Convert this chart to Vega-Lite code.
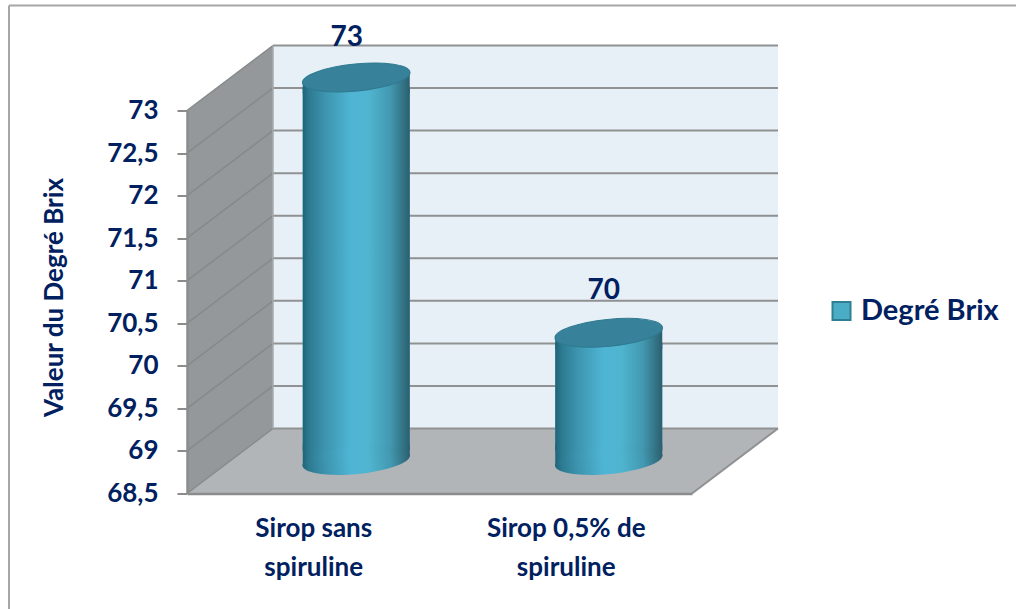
{
  "$schema": "https://vega.github.io/schema/vega-lite/v6.json",
  "autosize": {"type": "none"},
  "width": 505,
  "height": 383,
  "padding": {"left": 187, "top": 110.5, "right": 324, "bottom": 115.5},
  "background": "#ffffff",
  "config": {
    "view": {"stroke": null},
    "text": {"font": "Lato", "fontWeight": "bold", "color": "#002060"}
  },
  "resolve": {"axis": {"x": "independent", "y": "independent"}},
  "datasets": {
    "cylindres": [
      {"categorie": "Sirop sans spiruline", "rang": 0.5, "valeur": 73, "base": 68.5, "serie": "Degré Brix"},
      {"categorie": "Sirop 0,5% de spiruline", "rang": 1.5, "valeur": 70, "base": 68.5, "serie": "Degré Brix"}
    ],
    "graduations": [
      {"graduation": 68.5}, {"graduation": 69}, {"graduation": 69.5}, {"graduation": 70},
      {"graduation": 70.5}, {"graduation": 71}, {"graduation": 71.5}, {"graduation": 72},
      {"graduation": 72.5}, {"graduation": 73}
    ]
  },
  "layer": [
    {
      "data": {"values": [
        {"rang": 0, "bas": 68.5, "haut": 73},
        {"rang": 0.3406, "bas": 69.264, "haut": 73.764}
      ]},
      "mark": {"type": "area", "fill": "#94989a", "orient": "vertical"},
      "encoding": {
        "x": {
          "field": "rang", "type": "quantitative",
          "scale": {"domain": [0, 2], "nice": false, "zero": false, "padding": 0},
          "axis": null
        },
        "y": {
          "field": "bas", "type": "quantitative",
          "scale": {"domain": [68.5, 73], "nice": false, "zero": false, "padding": 0},
          "axis": null
        },
        "y2": {"field": "haut"}
      }
    },
    {
      "data": {"values": [
        {"bord": 68.5, "gauche": 0, "droite": 2},
        {"bord": 69.264, "gauche": 0.3406, "droite": 2.3406}
      ]},
      "mark": {"type": "area", "fill": "#b2b5b8", "orient": "horizontal"},
      "encoding": {
        "y": {"field": "bord", "type": "quantitative", "axis": null},
        "x": {"field": "gauche", "type": "quantitative", "axis": null},
        "x2": {"field": "droite"}
      }
    },
    {
      "data": {"values": [{"gauche": 0, "droite": 2, "bas": 68.5, "haut": 73}]},
      "mark": {"type": "rect", "fill": "#e8f0f7", "xOffset": 86, "x2Offset": 86, "yOffset": -65, "y2Offset": -65},
      "encoding": {
        "x": {"field": "gauche", "type": "quantitative", "axis": null},
        "x2": {"field": "droite"},
        "y": {"field": "bas", "type": "quantitative", "axis": null},
        "y2": {"field": "haut"}
      }
    },
    {
      "data": {"name": "graduations"},
      "mark": {"type": "rule", "stroke": "#8f9192", "strokeWidth": 2, "xOffset": 86, "x2Offset": 86, "yOffset": -65},
      "encoding": {
        "x": {"datum": 0, "type": "quantitative", "axis": null},
        "x2": {"datum": 2},
        "y": {"field": "graduation", "type": "quantitative", "axis": null}
      }
    },
    {
      "data": {"name": "graduations"},
      "mark": {"type": "rule", "stroke": "#85898a", "strokeWidth": 1.5, "x2Offset": 86, "y2Offset": -65},
      "encoding": {
        "x": {"datum": 0, "type": "quantitative", "axis": null},
        "x2": {"datum": 0},
        "y": {"field": "graduation", "type": "quantitative", "axis": null},
        "y2": {"field": "graduation"}
      }
    },
    {
      "data": {"values": [{"graduation": 68.5}]},
      "mark": {"type": "rule", "stroke": "#8f9192", "strokeWidth": 2, "x2Offset": 86, "y2Offset": -65},
      "encoding": {
        "x": {"datum": 2, "type": "quantitative", "axis": null},
        "x2": {"datum": 2},
        "y": {"field": "graduation", "type": "quantitative", "axis": null},
        "y2": {"field": "graduation"}
      }
    },
    {
      "data": {"values": [{"graduation": 68.5, "sommet": 73}]},
      "mark": {"type": "rule", "stroke": "#a9abad", "strokeWidth": 1.5, "xOffset": 86, "yOffset": -65, "y2Offset": -65},
      "encoding": {
        "x": {"datum": 0, "type": "quantitative", "axis": null},
        "y": {"field": "graduation", "type": "quantitative", "axis": null},
        "y2": {"field": "sommet"}
      }
    },
    {
      "data": {"name": "cylindres"},
      "mark": {"type": "bar", "orient": "vertical", "size": 107, "xOffset": 43, "yOffset": -23, "y2Offset": -43},
      "encoding": {
        "x": {"field": "rang", "type": "quantitative", "axis": null},
        "y": {"field": "valeur", "type": "quantitative", "axis": null},
        "y2": {"field": "base"},
        "color": {
          "field": "serie", "type": "nominal",
          "scale": {"range": ["#4bacc6"]},
          "legend": {
            "title": null, "orient": "none", "legendX": 640, "legendY": 186,
            "symbolType": "square", "symbolSize": 324, "symbolStrokeColor": "#2f7f94", "symbolStrokeWidth": 2,
            "symbolOpacity": 1, "labelFont": "Lato", "labelFontWeight": "bold", "labelFontSize": 29,
            "labelColor": "#002060", "labelOffset": 5
          }
        }
      }
    },
    {
      "data": {"name": "cylindres"},
      "mark": {
        "type": "bar", "orient": "vertical", "size": 107, "xOffset": 43, "yOffset": -23, "y2Offset": -43,
        "fill": {
          "gradient": "linear", "x1": 0, "y1": 0, "x2": 1, "y2": 0,
          "stops": [
            {"offset": 0, "color": "#1f6478"}, {"offset": 0.06, "color": "#2d7a90"},
            {"offset": 0.2, "color": "#3c93ad"}, {"offset": 0.45, "color": "#4fb5d5"},
            {"offset": 0.62, "color": "#4fb4cf"}, {"offset": 0.82, "color": "#4298b0"},
            {"offset": 0.95, "color": "#326f80"}, {"offset": 1, "color": "#2a5f70"}
          ]
        }
      },
      "encoding": {
        "x": {"field": "rang", "type": "quantitative", "axis": null},
        "y": {"field": "valeur", "type": "quantitative", "axis": null},
        "y2": {"field": "base"}
      }
    },
    {
      "data": {"name": "cylindres"},
      "mark": {
        "type": "point", "filled": true, "opacity": 1, "size": 11449, "xOffset": 43, "yOffset": -33,
        "shape": "M-1,0.098 L1,-0.098 L1,0.3 L-1,0.3 Z",
        "fill": {
          "gradient": "linear", "x1": 0, "y1": 0, "x2": 1, "y2": 0,
          "stops": [
            {"offset": 0, "color": "#1f6478"}, {"offset": 0.06, "color": "#2d7a90"},
            {"offset": 0.2, "color": "#3c93ad"}, {"offset": 0.45, "color": "#4fb5d5"},
            {"offset": 0.62, "color": "#4fb4cf"}, {"offset": 0.82, "color": "#4298b0"},
            {"offset": 0.95, "color": "#326f80"}, {"offset": 1, "color": "#2a5f70"}
          ]
        }
      },
      "encoding": {
        "x": {"field": "rang", "type": "quantitative", "axis": null},
        "y": {"field": "valeur", "type": "quantitative", "axis": null}
      }
    },
    {
      "data": {"name": "cylindres"},
      "mark": {
        "type": "point", "filled": true, "opacity": 1, "size": 11449, "xOffset": 43, "yOffset": -33,
        "shape": "M-1,0.098 L1,-0.098 L1,-0.3 L-1,-0.3 Z",
        "fill": {
          "gradient": "linear", "x1": 0, "y1": 0, "x2": 1, "y2": 0,
          "stops": [
            {"offset": 0, "color": "#1f6478"}, {"offset": 0.06, "color": "#2d7a90"},
            {"offset": 0.2, "color": "#3c93ad"}, {"offset": 0.45, "color": "#4fb5d5"},
            {"offset": 0.62, "color": "#4fb4cf"}, {"offset": 0.82, "color": "#4298b0"},
            {"offset": 0.95, "color": "#326f80"}, {"offset": 1, "color": "#2a5f70"}
          ]
        }
      },
      "encoding": {
        "x": {"field": "rang", "type": "quantitative", "axis": null},
        "y": {"field": "base", "type": "quantitative", "axis": null}
      }
    },
    {
      "data": {"name": "cylindres"},
      "mark": {
        "type": "point", "filled": true, "opacity": 1, "size": 11664, "xOffset": 43, "yOffset": -33, "angle": -5.65,
        "shape": "M-1,0 A1,0.25 0 1 1 1,0 A1,0.25 0 1 1 -1,0 Z",
        "fill": {
          "gradient": "linear", "x1": 0, "y1": 0, "x2": 1, "y2": 0,
          "stops": [
            {"offset": 0, "color": "#1f6478"}, {"offset": 0.06, "color": "#2d7a90"},
            {"offset": 0.2, "color": "#3c93ad"}, {"offset": 0.45, "color": "#4fb5d5"},
            {"offset": 0.62, "color": "#4fb4cf"}, {"offset": 0.82, "color": "#4298b0"},
            {"offset": 0.95, "color": "#326f80"}, {"offset": 1, "color": "#2a5f70"}
          ]
        }
      },
      "encoding": {
        "x": {"field": "rang", "type": "quantitative", "axis": null},
        "y": {"field": "base", "type": "quantitative", "axis": null}
      }
    },
    {
      "data": {"name": "cylindres"},
      "mark": {
        "type": "point", "filled": true, "opacity": 1, "size": 11664, "xOffset": 43, "yOffset": -33, "angle": -5.65,
        "shape": "M-1,0 A1,0.25 0 1 1 1,0 A1,0.25 0 1 1 -1,0 Z",
        "fill": "#37829a", "stroke": "#2f7a90", "strokeWidth": 1
      },
      "encoding": {
        "x": {"field": "rang", "type": "quantitative", "axis": null},
        "y": {"field": "valeur", "type": "quantitative", "axis": null}
      }
    },
    {
      "data": {"name": "cylindres"},
      "transform": [{"filter": "datum.valeur == 73"}],
      "mark": {"type": "text", "fontSize": 28, "baseline": "middle", "xOffset": 33.5, "yOffset": -72.5},
      "encoding": {
        "x": {"field": "rang", "type": "quantitative", "axis": null},
        "y": {"field": "valeur", "type": "quantitative", "axis": null},
        "text": {"field": "valeur", "type": "quantitative"}
      }
    },
    {
      "data": {"name": "cylindres"},
      "transform": [{"filter": "datum.valeur == 70"}],
      "mark": {"type": "text", "fontSize": 28, "baseline": "middle", "xOffset": 38, "yOffset": -75.3},
      "encoding": {
        "x": {"field": "rang", "type": "quantitative", "axis": null},
        "y": {"field": "valeur", "type": "quantitative", "axis": null},
        "text": {"field": "valeur", "type": "quantitative"}
      }
    },
    {
      "data": {"values": [{"debut": -0.705, "fin": 3.284, "niveau": 74.234}]},
      "mark": {"type": "rule", "stroke": "#a6a6a6", "strokeWidth": 2},
      "encoding": {
        "x": {"field": "debut", "type": "quantitative", "axis": null},
        "x2": {"field": "fin"},
        "y": {"field": "niveau", "type": "quantitative", "axis": null}
      }
    },
    {
      "data": {"values": [{"debut": 67.14, "fin": 74.234, "abscisse": -0.705}]},
      "mark": {"type": "rule", "stroke": "#a6a6a6", "strokeWidth": 2},
      "encoding": {
        "x": {"field": "abscisse", "type": "quantitative", "axis": null},
        "y": {"field": "debut", "type": "quantitative", "axis": null},
        "y2": {"field": "fin"}
      }
    },
    {
      "data": {"name": "cylindres"},
      "mark": {"type": "point", "opacity": 0, "filled": true, "size": 0},
      "encoding": {
        "x": {
          "field": "rang", "type": "quantitative",
          "axis": {
            "values": [0.5, 1.5], "title": null, "grid": false, "zindex": 1,
            "labelExpr": "datum.value < 1 ? ['Sirop sans', 'spiruline'] : ['Sirop 0,5% de', 'spiruline']",
            "labelFont": "Lato", "labelFontWeight": "bold", "labelFontSize": 26, "labelColor": "#002060",
            "labelLineHeight": 39, "labelPadding": 22, "labelAngle": 0, "labelOverlap": false,
            "tickSize": 0, "domainColor": "#8c8c8c", "domainWidth": 2.5
          }
        },
        "y": {
          "field": "valeur", "type": "quantitative",
          "axis": {
            "values": [68.5, 69, 69.5, 70, 70.5, 71, 71.5, 72, 72.5, 73],
            "title": "Valeur du Degré Brix", "grid": false, "zindex": 1,
            "labelExpr": "replace(format(datum.value, '.1~f'), '.', ',')",
            "labelFont": "Lato", "labelFontWeight": "bold", "labelFontSize": 26, "labelColor": "#002060",
            "labelPadding": 19, "labelOverlap": false,
            "tickSize": 10, "tickColor": "#8c8c8c", "tickWidth": 2,
            "domainColor": "#8c8c8c", "domainWidth": 2.5,
            "titleFont": "Lato", "titleFontWeight": "bold", "titleFontSize": 26, "titleColor": "#002060",
            "titleX": -120, "titleY": 186.5
          }
        }
      }
    }
  ]
}
